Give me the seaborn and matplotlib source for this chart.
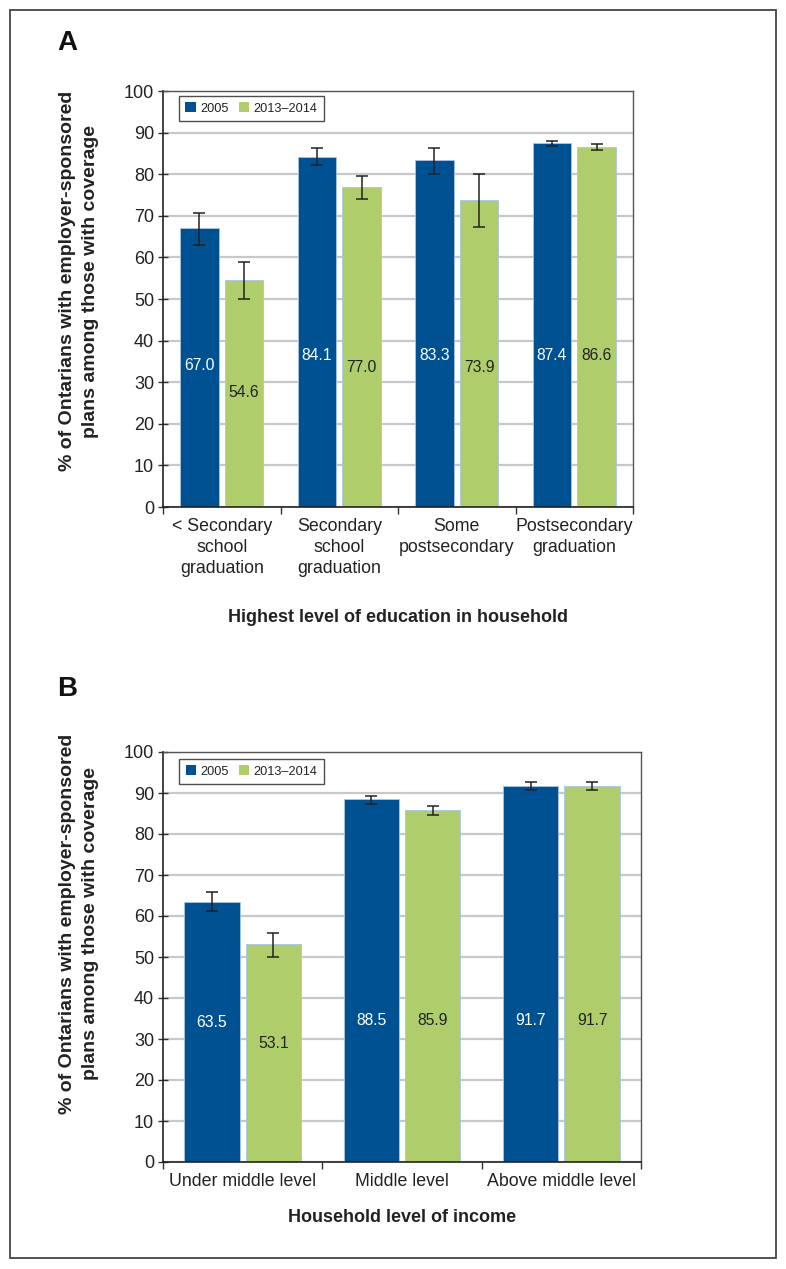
import matplotlib
matplotlib.use("Agg")
import matplotlib.pyplot as plt
import matplotlib.patches as mpatches
import seaborn as sns
import pandas as pd
import numpy as np

# ---------------- data ----------------
periods = ["2005", "2013\u20132014"]

edu_categories = ["< Secondary\nschool\ngraduation", "Secondary\nschool\ngraduation",
                  "Some\npostsecondary", "Postsecondary\ngraduation"]
edu_2005 = [67.0, 84.1, 83.3, 87.4]
edu_2013 = [54.6, 77.0, 73.9, 86.6]
edu_2005_lo = [63.1, 82.1, 80.1, 86.7]
edu_2005_hi = [70.7, 86.3, 86.3, 88.1]
edu_2013_lo = [50.0, 74.0, 67.4, 85.7]
edu_2013_hi = [58.9, 79.6, 80.1, 87.3]
edu_label_y_2005 = [34.1, 36.5, 36.5, 36.5]
edu_label_y_2013 = [27.6, 33.6, 33.6, 36.5]

inc_categories = ["Under middle level", "Middle level", "Above middle level"]
inc_2005 = [63.5, 88.5, 91.7]
inc_2013 = [53.1, 85.9, 91.7]
inc_2005_lo = [61.1, 87.4, 90.8]
inc_2005_hi = [65.9, 89.3, 92.7]
inc_2013_lo = [50.1, 84.6, 90.8]
inc_2013_hi = [55.9, 86.9, 92.7]
inc_label_y_2005 = [34.1, 34.6, 34.6]
inc_label_y_2013 = [29.0, 34.6, 34.6]

yticks = list(range(0, 101, 10))
ylabel = "% of Ontarians with employer-sponsored\nplans among those with coverage"
xlabel_a = "Highest level of education in household"
xlabel_b = "Household level of income"

# ---------------- style ----------------
BLUE = "#005192"
GREEN = "#B0CD6C"
palette = {periods[0]: BLUE, periods[1]: GREEN}

sns.set_theme(style="white")
plt.rcParams["font.family"] = ["Liberation Sans", "DejaVu Sans"]
plt.rcParams["text.color"] = "#222222"

W, H = 786, 1269
fig = plt.figure(figsize=(W / 100, H / 100), dpi=100)


def axes_rect(l, t, r, b):
    return [l / W, 1 - b / H, (r - l) / W, (b - t) / H]


def draw_panel(ax, cats, v05, v13, lo05, hi05, lo13, hi13, ly05, ly13,
               width, gap, capw, legend_top):
    df = pd.DataFrame({
        "category": cats * 2,
        "period": [periods[0]] * len(cats) + [periods[1]] * len(cats),
        "value": v05 + v13,
    })
    sns.barplot(data=df, x="category", y="value", hue="period",
                order=cats, hue_order=periods, palette=palette,
                width=width, gap=gap, errorbar=None, legend=False,
                saturation=1, ax=ax, zorder=3,
                edgecolor="#a9c6e0", linewidth=0.6)
    ax.set_ylim(0, 100)
    ax.set_xlim(-0.5, len(cats) - 0.5)
    ax.set_yticks(yticks)
    ax.set_yticklabels([str(t) for t in yticks], fontsize=13, color="#222222")
    ax.yaxis.grid(True, color="#c8c8c8", linewidth=1.6, zorder=0)
    ax.xaxis.grid(False)
    ax.set_axisbelow(True)

    # x ticks: boundaries as major ticks, labels at centres as minor
    ax.set_xticks(np.arange(-0.5, len(cats), 1.0))
    ax.set_xticklabels([])
    ax.set_xticks(np.arange(len(cats)), minor=True)
    ax.set_xticklabels(cats, minor=True, fontsize=12.8, color="#222222",
                       linespacing=1.3)
    ax.tick_params(axis="x", which="major", direction="out", length=5,
                   width=1, color="#333333", bottom=True)
    ax.tick_params(axis="x", which="minor", length=0, pad=8, bottom=True)
    ax.tick_params(axis="y", direction="inout", length=7, width=1,
                   color="#333333", left=True, pad=3)
    ax.set_xlabel("")
    ax.set_ylabel("")

    for side in ["left", "bottom"]:
        ax.spines[side].set_color("#222222")
        ax.spines[side].set_linewidth(1.2)
    for side in ["top", "right"]:
        ax.spines[side].set_color("#555555")
        ax.spines[side].set_linewidth(1.0)
    for s in ax.spines.values():
        s.set_zorder(5)

    # error bars and value labels, positioned from the library's bars
    conts = ax.containers
    for cont, vals, los, his, lys, tcol in [
            (conts[0], v05, lo05, hi05, ly05, "white"),
            (conts[1], v13, lo13, hi13, ly13, "#222222")]:
        xs = [p.get_x() + p.get_width() / 2 for p in cont.patches]
        yerr = [[v - l for v, l in zip(vals, los)],
                [h - v for v, h in zip(vals, his)]]
        ax.errorbar(xs, vals, yerr=yerr, fmt="none", ecolor="#222222",
                    elinewidth=1.1, capsize=capw, capthick=1.1, zorder=6)
        for x, v, y in zip(xs, vals, lys):
            ax.text(x, y, f"{v:.1f}", ha="center", va="center",
                    fontsize=11.3, color=tcol, zorder=7)

    handles = [mpatches.Patch(facecolor=BLUE, edgecolor="none", label=periods[0]),
               mpatches.Patch(facecolor=GREEN, edgecolor="none", label=periods[1])]
    leg = ax.legend(handles=handles, loc="upper left",
                    bbox_to_anchor=(0.034, legend_top), ncol=2, frameon=True,
                    fancybox=False, fontsize=9.2, handlelength=0.8,
                    handleheight=0.8, handletextpad=0.35, columnspacing=0.8,
                    borderpad=0.5, borderaxespad=0)
    leg.get_frame().set_edgecolor("#222222")
    leg.get_frame().set_linewidth(1.0)
    leg.set_zorder(10)


axA = fig.add_axes(axes_rect(163, 91, 633, 507))
draw_panel(axA, edu_categories, edu_2005, edu_2013, edu_2005_lo, edu_2005_hi,
           edu_2013_lo, edu_2013_hi, edu_label_y_2005, edu_label_y_2013,
           width=0.76, gap=0.13, capw=4, legend_top=0.988)

axB = fig.add_axes(axes_rect(163, 752, 641, 1162))
draw_panel(axB, inc_categories, inc_2005, inc_2013, inc_2005_lo, inc_2005_hi,
           inc_2013_lo, inc_2013_hi, inc_label_y_2005, inc_label_y_2013,
           width=0.77, gap=0.10, capw=4, legend_top=0.983)

# axis titles
fig.text(398 / W, 1 - 618 / H, xlabel_a, ha="center", va="center",
         fontsize=13, fontweight="bold", color="#222222")
fig.text(402 / W, 1 - 1218 / H, xlabel_b, ha="center", va="center",
         fontsize=13, fontweight="bold", color="#222222")
fig.text(79 / W, 1 - 281 / H, ylabel, ha="center", va="center", rotation=90,
         fontsize=14, fontweight="bold", color="#222222", linespacing=1.5)
fig.text(79 / W, 1 - 924 / H, ylabel, ha="center", va="center", rotation=90,
         fontsize=14, fontweight="bold", color="#222222", linespacing=1.5)

# panel letters
fig.text(57 / W, 1 - 43 / H, "A", ha="left", va="center", fontsize=20,
         fontweight="bold", color="#111111")
fig.text(57 / W, 1 - 689 / H, "B", ha="left", va="center", fontsize=20,
         fontweight="bold", color="#111111")

# outer frame
fig.patches.append(mpatches.Rectangle((10 / W, 1 - 1258 / H), (776 - 10) / W,
                                      (1258 - 10) / H, transform=fig.transFigure,
                                      fill=False, edgecolor="#444444",
                                      linewidth=1.3))

fig.savefig("out.png", dpi=100)
